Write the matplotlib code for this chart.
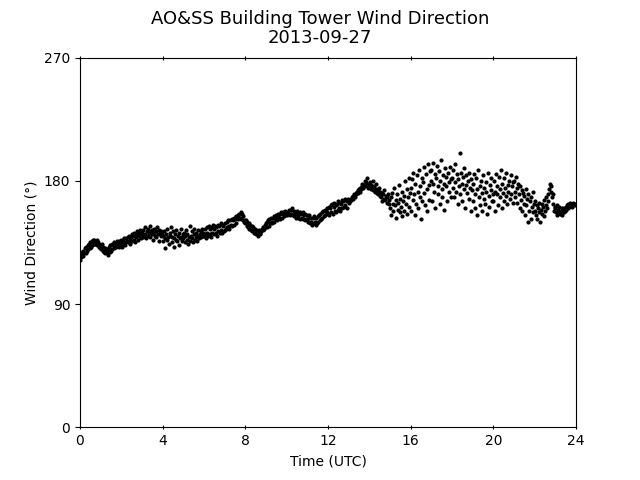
import numpy as np
import matplotlib
matplotlib.use('Agg')
import matplotlib.pyplot as plt

# wind direction (deg), 2-minute samples, one list per UTC hour
h00 = [122, 126, 124, 128, 125, 129, 127, 131, 127, 132, 129, 133, 130, 134, 131, 135, 132, 136, 133, 137, 134, 137, 134, 135, 137, 133, 135, 132, 134, 131]
h01 = [133, 130, 134, 129, 132, 128, 131, 127, 130, 128, 126, 130, 132, 128, 133, 129, 134, 130, 133, 135, 131, 134, 132, 136, 133, 135, 132, 136, 134, 137]
h02 = [135, 132, 137, 134, 138, 135, 133, 138, 136, 139, 135, 140, 137, 134, 139, 141, 136, 140, 142, 137, 135, 141, 139, 143, 137, 142, 140, 144, 138, 141]
h03 = [142, 139, 144, 140, 146, 141, 138, 143, 145, 140, 142, 147, 139, 143, 141, 144, 137, 142, 145, 140, 143, 139, 146, 141, 144, 136, 142, 140, 143, 141]
h04 = [140, 136, 143, 138, 131, 141, 145, 137, 139, 134, 142, 140, 146, 135, 139, 143, 132, 138, 141, 137, 144, 136, 140, 133, 142, 138, 145, 139, 136, 141]
h05 = [138, 142, 135, 140, 144, 137, 141, 134, 139, 147, 136, 140, 143, 138, 135, 141, 145, 137, 139, 142, 136, 140, 144, 138, 141, 143, 139, 145, 140, 142]
h06 = [140, 145, 141, 138, 146, 142, 140, 147, 141, 145, 139, 146, 142, 148, 141, 145, 147, 142, 146, 140, 148, 143, 147, 142, 149, 144, 142, 148, 147, 143]
h07 = [144, 149, 145, 150, 146, 151, 147, 145, 151, 148, 152, 147, 151, 153, 148, 152, 154, 149, 153, 155, 152, 156, 153, 157, 152, 156, 151, 154, 150, 151]
h08 = [149, 151, 147, 150, 146, 149, 145, 148, 144, 147, 143, 146, 145, 142, 145, 141, 144, 143, 141, 140, 144, 141, 142, 143, 145, 144, 146, 145, 148, 146]
h09 = [149, 146, 150, 151, 147, 152, 149, 153, 150, 149, 153, 154, 150, 153, 152, 155, 151, 154, 156, 153, 152, 156, 157, 153, 156, 157, 154, 158, 155, 156]
h10 = [157, 155, 156, 159, 156, 155, 159, 156, 160, 155, 158, 154, 157, 153, 156, 158, 155, 153, 156, 157, 152, 156, 153, 157, 152, 155, 151, 156, 152, 155]
h11 = [152, 150, 153, 155, 149, 153, 150, 148, 153, 149, 154, 150, 148, 153, 149, 154, 150, 155, 151, 156, 152, 157, 153, 158, 154, 159, 155, 158, 160, 157]
h12 = [156, 161, 155, 160, 162, 157, 163, 156, 161, 164, 158, 162, 157, 163, 159, 165, 160, 164, 158, 163, 166, 160, 165, 161, 167, 162, 166, 160, 165, 167]
h13 = [164, 166, 165, 167, 166, 168, 167, 169, 170, 168, 171, 170, 172, 171, 173, 174, 172, 175, 174, 176, 178, 175, 177, 180, 176, 179, 182, 177, 175, 178]
h14 = [176, 179, 174, 177, 175, 180, 173, 176, 172, 174, 178, 171, 173, 170, 175, 169, 172, 168, 171, 165, 170, 167, 173, 166, 169, 164, 168, 170, 163, 166]
h15 = [160, 168, 155, 171, 163, 158, 175, 162, 166, 153, 170, 159, 164, 177, 157, 167, 161, 172, 154, 165, 169, 158, 180, 163, 174, 156, 168, 182, 161, 171]
h16 = [175, 158, 181, 166, 186, 170, 155, 178, 163, 184, 172, 160, 188, 168, 176, 152, 182, 165, 179, 190, 171, 162, 185, 174, 158, 192, 177, 166, 187, 180]
h17 = [188, 165, 193, 178, 172, 185, 160, 182, 191, 170, 176, 187, 163, 180, 195, 174, 168, 184, 178, 159, 189, 176, 183, 165, 186, 172, 179, 190, 168, 181]
h18 = [182, 175, 188, 168, 179, 192, 172, 185, 163, 181, 176, 200, 170, 186, 178, 165, 183, 174, 189, 160, 177, 184, 171, 180, 167, 186, 175, 158, 181, 173]
h19 = [178, 165, 185, 170, 160, 182, 174, 155, 188, 168, 176, 162, 180, 171, 158, 184, 167, 175, 163, 179, 172, 156, 186, 169, 161, 177, 173, 182, 165, 170]
h20 = [165, 180, 172, 158, 185, 170, 176, 162, 183, 168, 174, 188, 160, 178, 171, 165, 182, 175, 169, 186, 163, 177, 172, 180, 167, 184, 170, 176, 164, 179]
h21 = [180, 172, 168, 183, 175, 164, 178, 170, 160, 176, 166, 173, 158, 171, 163, 169, 155, 174, 162, 167, 150, 170, 158, 165, 152, 168, 161, 172, 157, 163]
h22 = [158, 165, 155, 162, 152, 160, 157, 164, 150, 159, 163, 156, 161, 154, 166, 158, 162, 168, 160, 170, 165, 174, 178, 172, 176, 168, 163, 170, 158, 161]
h23 = [160, 157, 162, 155, 159, 157, 161, 156, 158, 160, 155, 159, 157, 160, 158, 161, 159, 162, 160, 163, 161, 164, 162, 163, 161, 164, 162, 163, 162, 163]
h24 = [163]

wdir = (h00 + h01 + h02 + h03 + h04 + h05 + h06 + h07 + h08 + h09 + h10 + h11 +
        h12 + h13 + h14 + h15 + h16 + h17 + h18 + h19 + h20 + h21 + h22 + h23 + h24)
hours = np.arange(len(wdir)) * 2 / 60.0

xticks = [0, 4, 8, 12, 16, 20, 24]
yticks = [0, 90, 180, 270]

fig, ax = plt.subplots(figsize=(6.4, 4.8), dpi=100)
ax.plot(hours, wdir, 'k.', markersize=4)

ax.set_xlim(0, 24)
ax.set_ylim(0, 270)
ax.set_xticks(xticks)
ax.set_yticks(yticks)
ax.tick_params(axis='x', direction='inout', top=True)
ax.set_xlabel('Time (UTC)')
ax.set_ylabel('Wind Direction (°)')
fig.suptitle('AO&SS Building Tower Wind Direction\n2013-09-27', fontsize=13,
             linespacing=1.1)

plt.savefig('out.png', dpi=100)
